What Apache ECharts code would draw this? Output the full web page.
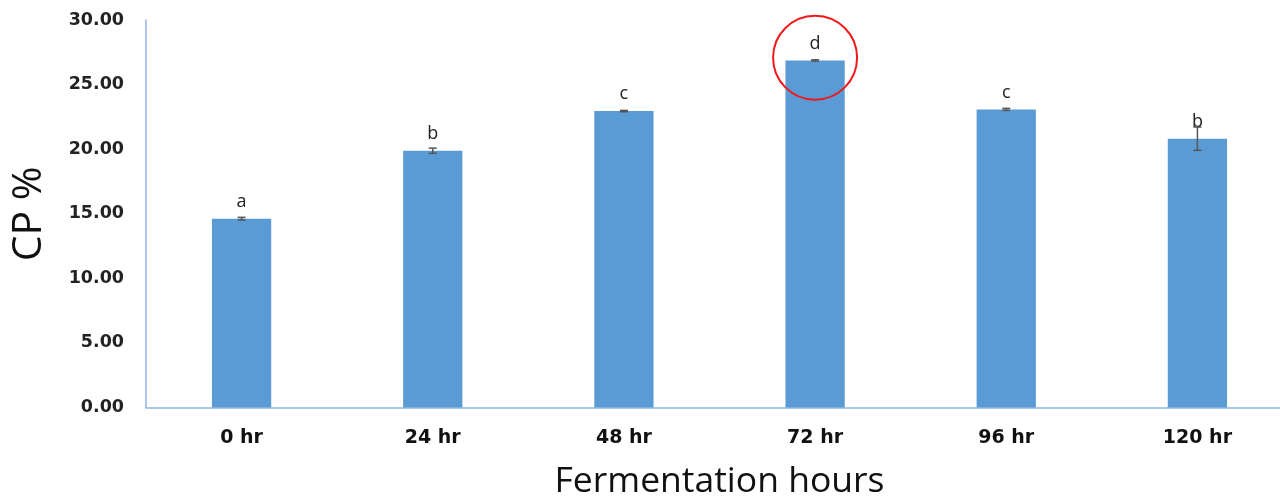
<!DOCTYPE html>
<html>
<head>
<meta charset="utf-8">
<script src="https://cdn.jsdelivr.net/npm/echarts@6/dist/echarts.min.js"></script>
<style>
  html, body { margin: 0; padding: 0; background: #fff; }
  #chart { width: 1280px; height: 499px; }
</style>
</head>
<body>
<div id="chart"></div>
<script>
// Crude protein (%) over fermentation time
const categories = ['0 hr', '24 hr', '48 hr', '72 hr', '96 hr', '120 hr'];
const cpValues   = [14.62, 19.88, 22.95, 26.87, 23.08, 20.81];
const cpErrors   = [0.10, 0.20, 0.05, 0.05, 0.08, 0.90];
const groupLetters = ['a', 'b', 'c', 'd', 'c', 'b'];
const yTicks = { min: 0, max: 30, interval: 5 };
// highlighted group (circled)
const highlightIndex = 3;
const highlightValue = 27.08;

const barColor = '#5B9BD5';
const axisColor = '#8EB4E3';

const errorData = cpValues.map((v, i) => [i, v - cpErrors[i], v + cpErrors[i]]);

const chart = echarts.init(document.getElementById('chart'));
chart.setOption({
  animation: false,
  grid: { left: 146, top: 20, width: 1147, bottom: 91.5, containLabel: false, outerBoundsMode: 'none' },
  xAxis: {
    type: 'category',
    data: categories,
    axisLine: { lineStyle: { color: axisColor, width: 1.5 } },
    axisTick: { show: false },
    axisLabel: {
      margin: 21,
      color: '#111',
      fontFamily: 'DejaVu Sans',
      fontWeight: 'bold',
      fontSize: 19
    },
    name: 'Fermentation hours',
    nameLocation: 'middle',
    nameGap: 56,
    nameTextStyle: { fontFamily: 'Open Sans', fontSize: 35.5, color: '#111' }
  },
  yAxis: {
    type: 'value',
    min: yTicks.min,
    max: yTicks.max,
    interval: yTicks.interval,
    splitLine: { show: false },
    axisLine: { show: true, lineStyle: { color: axisColor, width: 1.5 } },
    axisTick: { show: false },
    axisLabel: {
      margin: 22,
      color: '#222',
      fontFamily: 'DejaVu Sans',
      fontWeight: 'bold',
      fontSize: 17.5,
      formatter: v => v.toFixed(2)
    },
    name: 'CP %',
    nameLocation: 'middle',
    nameGap: 96,
    nameRotate: 90,
    nameTextStyle: { fontFamily: 'Open Sans', fontSize: 41, color: '#111' }
  },
  series: [
    {
      type: 'bar',
      data: cpValues,
      barWidth: '31%',
      itemStyle: { color: barColor },
      label: {
        show: true,
        position: 'top',
        distance: 8,
        fontFamily: 'Open Sans',
        fontSize: 18,
        color: '#222',
        formatter: p => groupLetters[p.dataIndex]
      },
      markPoint: {
        symbol: 'circle',
        symbolSize: 84,
        silent: true,
        label: { show: false },
        itemStyle: { color: 'rgba(0,0,0,0)', borderColor: '#F01818', borderWidth: 2 },
        data: [{ coord: [highlightIndex, highlightValue] }]
      }
    },
    {
      type: 'custom',
      data: errorData,
      z: 5,
      renderItem: function (params, api) {
        const x = api.value(0);
        const lo = api.coord([x, api.value(1)]);
        const hi = api.coord([x, api.value(2)]);
        const half = 4;
        const style = { stroke: '#555', lineWidth: 1.5 };
        return {
          type: 'group',
          children: [
            { type: 'line', shape: { x1: lo[0], y1: lo[1], x2: hi[0], y2: hi[1] }, style },
            { type: 'line', shape: { x1: lo[0] - half, y1: lo[1], x2: lo[0] + half, y2: lo[1] }, style },
            { type: 'line', shape: { x1: hi[0] - half, y1: hi[1], x2: hi[0] + half, y2: hi[1] }, style }
          ]
        };
      }
    }
  ]
});
</script>
</body>
</html>
